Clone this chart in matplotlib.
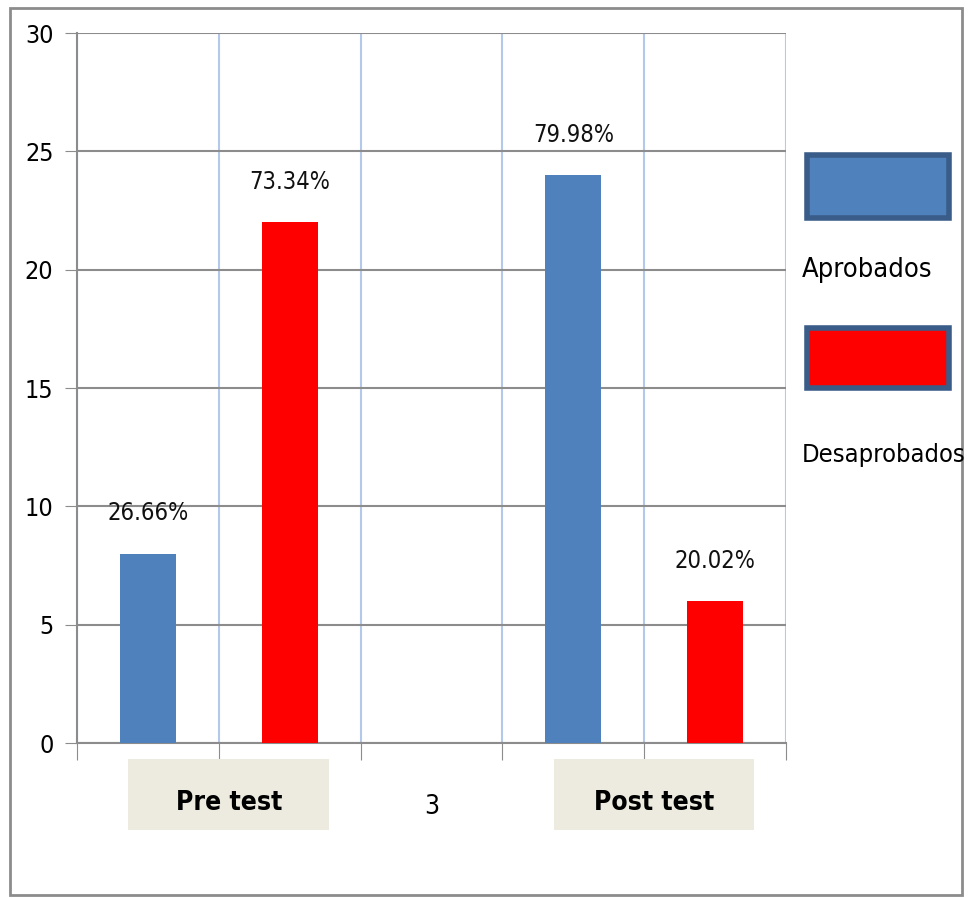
import matplotlib.pyplot as plt
from matplotlib.patches import Rectangle

plt.rcParams['font.family'] = ['DejaVu Sans']
plt.rcParams['font.stretch'] = 'condensed'

positions = [0, 1, 3, 4]
series = ["Aprobados", "Desaprobados", "Aprobados", "Desaprobados"]
values = [8, 22, 24, 6]
pct_labels = ["26.66%", "73.34%", "79.98%", "20.02%"]
group_labels = ["Pre test", "3", "Post test"]
group_pos = [0.57, 2.0, 3.57]
group_boxes = [(-0.14, 1.277), None, (2.864, 4.274)]

colors = {"Aprobados": "#4F81BD", "Desaprobados": "#FF0000"}

fig = plt.figure(figsize=(9.74, 8.98), dpi=100)
ax = fig.add_axes([0.0791, 0.1726, 0.7279, 0.7906])

for p, s, v, t in zip(positions, series, values, pct_labels):
    ax.bar(p, v, width=0.395, color=colors[s], zorder=3)
    ax.text(p, v + 1.7, t, ha='center', va='center', fontsize=17, color='#111111')

ax.set_xlim(-0.5, 4.5)
ax.set_ylim(0, 30)
ax.set_yticks(range(0, 31, 5))
ax.set_xticks([-0.5, 0.5, 1.5, 2.5, 3.5, 4.5])
ax.set_xticklabels([])
ax.tick_params(axis='y', labelsize=18, length=9, color='#8c8c8c', pad=8)
ax.tick_params(axis='x', length=12, color='#8c8c8c')
ax.set_axisbelow(True)
ax.grid(axis='y', color='#8c8c8c', linewidth=1.5)
ax.grid(axis='x', color='#b4c8ea', linewidth=1.5)
ax.spines['top'].set_visible(False)
ax.spines['right'].set_visible(False)
for sp in ['left', 'bottom']:
    ax.spines[sp].set_color('#8c8c8c')
    ax.spines[sp].set_linewidth(1.5)

trans = ax.get_xaxis_transform()
for lab, gp, box in zip(group_labels, group_pos, group_boxes):
    if box is None:
        ax.text(gp, -0.09, lab, transform=trans, ha='center', va='center', fontsize=19)
    else:
        ax.add_patch(Rectangle((box[0], -0.1225), box[1] - box[0], 0.1, transform=trans,
                               facecolor='#EDEBE0', edgecolor='none', clip_on=False))
        ax.text(gp, -0.084, lab, transform=trans, ha='center', va='center', fontsize=19,
                fontweight='bold')

# legend drawn on the right
W, H = 974, 898
def fr(x0, y0, x1, y1):
    return (x0 / W, 1 - y1 / H), (x1 - x0) / W, (y1 - y0) / H

for (y0, y1), s, ty, fs in [((155, 218), "Aprobados", 270, 19.5), ((328, 388), "Desaprobados", 455, 18.3)]:
    xy, w, h = fr(807, y0, 949, y1)
    fig.patches.append(Rectangle(xy, w, h, transform=fig.transFigure, facecolor=colors[s],
                                 edgecolor='#3A5C88', linewidth=4))
    fig.text(802 / W, 1 - ty / H, s, ha='left', va='center', fontsize=fs)

# outer frame
fig.patches.append(Rectangle((10 / W, 1 - 895 / H), 952 / W, 887 / H, transform=fig.transFigure,
                             facecolor='none', edgecolor='#8c8c8c', linewidth=2))

fig.savefig('out.png', dpi=100)
